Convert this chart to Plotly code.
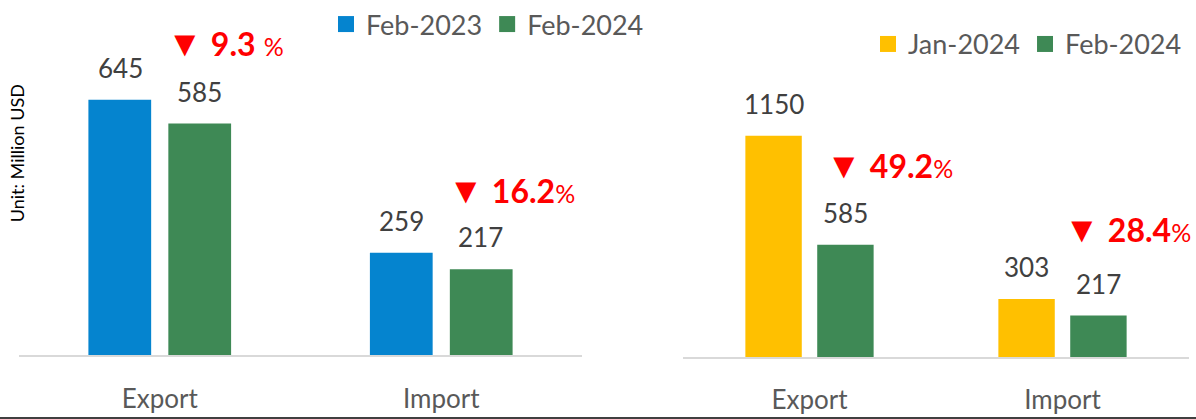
import plotly.graph_objects as go

# ---------------- data ----------------
categories = ["Export", "Import"]
left_series_names = ["Feb-2023", "Feb-2024"]
left_feb2023 = [645, 259]
left_feb2024 = [585, 217]
right_series_names = ["Jan-2024", "Feb-2024"]
right_jan2024 = [1150, 303]
right_feb2024 = [585, 217]
left_change_pct = ["9.3", "16.2"]
right_change_pct = ["49.2", "28.4"]
y_unit_label = "Unit: Million USD"

# ---------------- style ----------------
W, H = 1196, 419
BLUE = "#0584CF"
GREEN = "#3E8955"
YELLOW = "#FFC000"
RED = "#FF0000"
FONT = "Lato, 'Open Sans', sans-serif"


def px(x):
    return x / W


def py(y):
    return 1 - y / H


fig = go.Figure()

# bars
fig.add_trace(go.Bar(x=categories, y=left_feb2023, name=left_series_names[0],
                     marker=dict(color=BLUE, line_width=0), xaxis="x", yaxis="y", showlegend=False))
fig.add_trace(go.Bar(x=categories, y=left_feb2024, name=left_series_names[1],
                     marker=dict(color=GREEN, line_width=0), xaxis="x", yaxis="y", showlegend=False))
fig.add_trace(go.Bar(x=categories, y=right_jan2024, name=right_series_names[0],
                     marker=dict(color=YELLOW, line_width=0), xaxis="x2", yaxis="y2", showlegend=False))
fig.add_trace(go.Bar(x=categories, y=right_feb2024, name=right_series_names[1],
                     marker=dict(color=GREEN, line_width=0), xaxis="x2", yaxis="y2", showlegend=False))

# legend entries (square markers)
for name, col, lg, xa, ya in [
    (left_series_names[0], BLUE, "legend", "x", "y"),
    (left_series_names[1], GREEN, "legend", "x", "y"),
    (right_series_names[0], YELLOW, "legend2", "x2", "y2"),
    (right_series_names[1], GREEN, "legend2", "x2", "y2"),
]:
    fig.add_trace(go.Scatter(x=[None], y=[None], mode="markers", name=name,
                             marker=dict(symbol="square", size=16, color=col),
                             legend=lg, xaxis=xa, yaxis=ya, hoverinfo="skip"))

annotations = []

# value labels above bars
def add_value_labels(values, xref, yref, xshift):
    for cat, v in zip(categories, values):
        annotations.append(dict(x=cat, y=v, xref=xref, yref=yref, text=str(v),
                                showarrow=False, xshift=xshift, yshift=32,
                                yanchor="middle",
                                font=dict(family=FONT, size=26, color="#404040")))

add_value_labels(left_feb2023, "x", "y", -39.5)
add_value_labels(left_feb2024, "x", "y", 39.5)
add_value_labels(right_jan2024, "x2", "y2", -36)
add_value_labels(right_feb2024, "x2", "y2", 36)

# change annotations
def change_text(v, space):
    return ("<span style='font-size:36px'>▼</span> <b>" + v + "</b>" + (" " if space else "")
            + "<span style='font-size:25px'>%</span>")

change_pos = [
    (left_change_pct[0], True, 225, 40),
    (left_change_pct[1], False, 511, 188),
    (right_change_pct[0], False, 890, 163),
    (right_change_pct[1], False, 1127, 227),
]
for v, sp, cx, cy in change_pos:
    annotations.append(dict(x=px(cx), y=py(cy), xref="paper", yref="paper",
                            text=change_text(v, sp), showarrow=False,
                            xanchor="center", yanchor="middle",
                            font=dict(family=FONT, size=32, color=RED)))

# y unit label
annotations.append(dict(x=px(17), y=py(152), xref="paper", yref="paper",
                        text=y_unit_label, textangle=-90, showarrow=False,
                        xanchor="center", yanchor="middle",
                        font=dict(family=FONT, size=18, color="#000000")))

axis_common = dict(showgrid=False, zeroline=False, showline=True, linecolor="#D9D9D9",
                   linewidth=2, ticks="", tickfont=dict(family=FONT, size=26, color="#595959"),
                   ticklabelstandoff=19, fixedrange=True)
yaxis_common = dict(showgrid=False, zeroline=False, showline=False, showticklabels=False,
                    ticks="", fixedrange=True)

fig.update_layout(
    width=W, height=H,
    margin=dict(l=0, r=0, t=0, b=0),
    paper_bgcolor="white", plot_bgcolor="white",
    barmode="group", bargap=0.432, bargroupgap=0.215,
    font=dict(family=FONT),
    xaxis=dict(domain=[px(19), px(582)], anchor="y", **axis_common),
    yaxis=dict(domain=[py(355), py(30)], range=[0, 325 / 0.398], anchor="x", **yaxis_common),
    xaxis2=dict(domain=[px(683), px(1189)], anchor="y2", **axis_common),
    yaxis2=dict(domain=[py(357), py(30)], range=[0, 327 / 0.1935], anchor="x2", **yaxis_common),
    legend=dict(orientation="h", x=px(326), y=py(-2), xanchor="left", yanchor="top",
                font=dict(family=FONT, size=27, color="#595959"), bgcolor="rgba(0,0,0,0)",
                itemsizing="trace"),
    legend2=dict(orientation="h", x=px(868), y=py(18), xanchor="left", yanchor="top",
                 font=dict(family=FONT, size=27, color="#595959"), bgcolor="rgba(0,0,0,0)",
                 itemsizing="trace"),
    annotations=annotations,
    shapes=[dict(type="line", xref="paper", yref="paper", x0=0, x1=1,
                 y0=py(418), y1=py(418), line=dict(color="#404040", width=2))],
)

fig.write_html("out.html", config={"displayModeBar": False},
               post_script="document.body.style.margin='0';document.body.style.overflow='hidden';")
